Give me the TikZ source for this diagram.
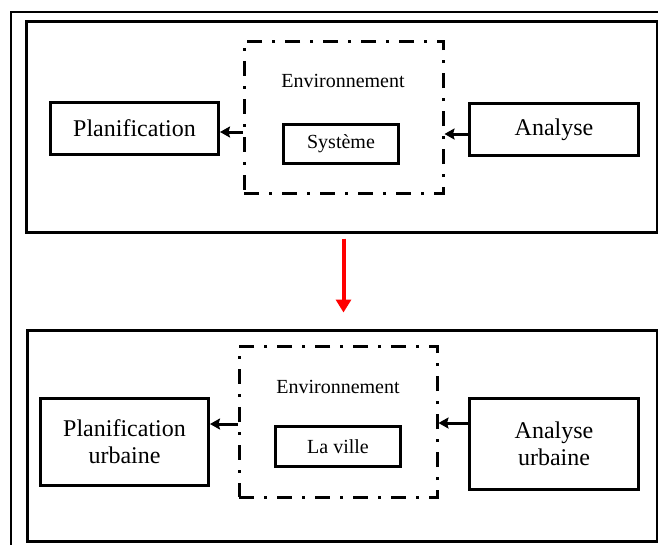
\documentclass[tikz,border=0pt]{standalone}
\usepackage{fontspec}
\setmainfont{Liberation Serif}
\usetikzlibrary{arrows.meta}
\begin{document}
\begin{tikzpicture}[x=1pt,y=-1pt,
  box/.style={draw=black,line width=3pt,inner sep=0pt,align=center,
    font=\fontsize{24}{27}\selectfont},
  smallbox/.style={draw=black,line width=3pt,inner sep=0pt,align=center,
    font=\fontsize{20}{24}\selectfont},
  envbox/.style={draw=black,line width=3pt,inner sep=0pt,
    dash pattern=on 15pt off 10pt on 3pt off 10pt},
  panel/.style={draw=black,line width=3pt,inner sep=0pt},
  label/.style={font=\fontsize{20}{24}\selectfont,inner sep=0pt},
  arr/.style={line width=3pt,-{Stealth[length=10pt,width=11pt,inset=1.5pt]}},
  redarr/.style={draw=red,line width=4pt,-{Triangle[length=13pt,width=15pt]}}
]
\useasboundingbox (0,0) rectangle (658,544);
\fill[white] (0,0) rectangle (658,544);
\clip (0,0) rectangle (658,544);

% outer frame (runs off the page at right and bottom)
\draw[line width=2pt] (10.5,600) -- (10.5,11.5) -- (700,11.5);

% top panel
\node[panel,minimum width=631pt,minimum height=211pt] (topP) at (341.5,126.5) {};
\node[envbox,minimum width=199pt,minimum height=152pt] (envA) at (343.5,117) {};
\node[label] (envAt) at (343,81) {Environnement};
\node[smallbox,minimum width=115pt,minimum height=39pt] (sys) at (341,144) {Système};
\node[box,minimum width=168pt,minimum height=52pt] (plan) at (134.5,128.5) {Planification};
\node[box,minimum width=169pt,minimum height=52pt] (ana) at (554,129.5) {Analyse};
\draw[arr] (envA.west |- 0,132) -- (plan.east |- 0,132);
\draw[arr] (ana.west |- 0,134) -- (envA.east |- 0,134);

% transition
\node[panel,minimum width=630pt,minimum height=211pt] (botP) at (342,435.5) {};
\draw[redarr,shorten <=5pt,shorten >=16pt] (envA.south |- topP.south) -- (envA.south |- botP.north);

% bottom panel
\node[envbox,minimum width=198pt,minimum height=151pt] (envB) at (338,421.5) {};
\node[label] (envBt) at (338,387) {Environnement};
\node[smallbox,minimum width=125pt,minimum height=40pt] (ville) at (338,446.5) {La ville};
\node[box,minimum width=168pt,minimum height=87pt] (planB) at (124.5,442) {Planification\\urbaine};
\node[box,minimum width=169pt,minimum height=91pt] (anaB) at (554,444) {Analyse\\urbaine};
\draw[arr] (envB.west |- 0,424) -- (planB.east |- 0,424);
\draw[arr] (anaB.west |- 0,423) -- (envB.east |- 0,423);
\end{tikzpicture}
\end{document}
